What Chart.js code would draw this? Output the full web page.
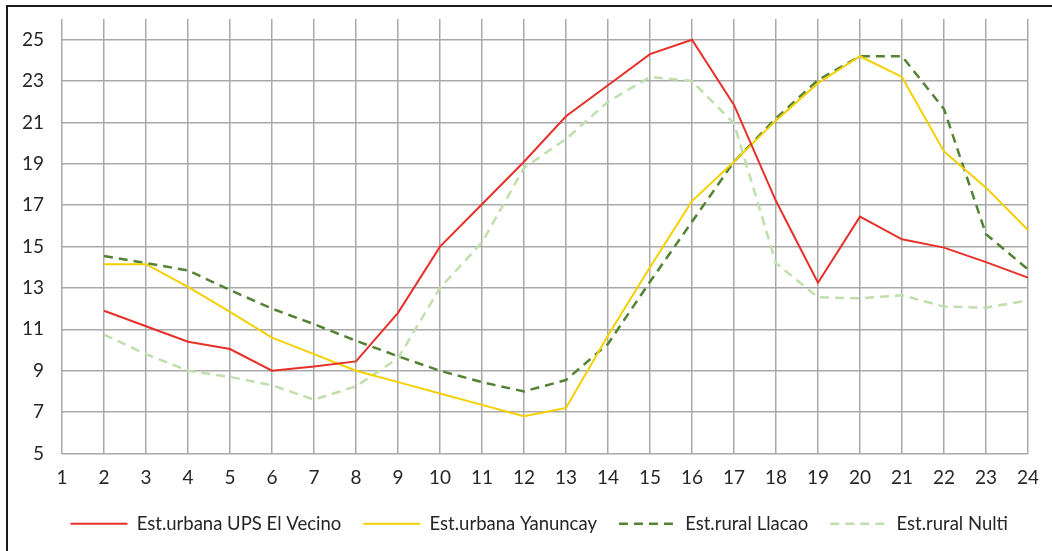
<!DOCTYPE html>
<html>
<head>
<meta charset="utf-8">
<script src="https://cdn.jsdelivr.net/npm/chart.js@4"></script>
<style>
  html, body { margin: 0; padding: 0; background: #fff; overflow: hidden; }
  #wrap { position: relative; width: 1052px; height: 551px; }
  #frame { position: absolute; left: 6px; top: 5px; width: 1200px; height: 700px;
           border-left: 2px solid #1a1a1a; border-top: 2px solid #1a1a1a; pointer-events: none; }
  canvas { position: absolute; left: 0; top: 0; }
</style>
</head>
<body>
<div id="wrap">
  <canvas id="grafico" width="1052" height="551"></canvas>
  <div id="frame"></div>
</div>
<script>
const horas = ['1', '2', '3', '4', '5', '6', '7', '8', '9', '10', '11', '12',
  '13', '14', '15', '16', '17', '18', '19', '20', '21', '22', '23', '24'];
const yTicks = [5, 7, 9, 11, 13, 15, 17, 19, 21, 23, 25];

const elVecino = [null, 11.9, 11.15, 10.4, 10.05, 9.0, 9.2, 9.45, 11.8, 15.0, 17.05, 19.1,
  21.3, 22.8, 24.3, 25.0, 21.85, 17.2, 13.25, 16.45, 15.35, 14.95, 14.25, 13.5];
const yanuncay = [null, 14.15, 14.15, 13.05, 11.85, 10.6, 9.8, 9.0, 8.45, 7.9, 7.35, 6.8,
  7.2, 10.7, 14.0, 17.2, 19.1, 21.1, 22.9, 24.2, 23.2, 19.6, 17.85, 15.8];
const llacao = [null, 14.55, 14.2, 13.85, 12.9, 12.0, 11.25, 10.45, 9.7, 9.0, 8.45, 8.0,
  8.55, 10.3, 13.3, 16.2, 19.1, 21.2, 23.05, 24.2, 24.2, 21.65, 15.6, 13.9];
const nulti = [null, 10.75, 9.8, 9.0, 8.7, 8.3, 7.6, 8.25, 9.6, 13.0, 15.2, 18.8,
  20.2, 22.0, 23.2, 23.0, 20.95, 14.2, 12.55, 12.5, 12.65, 12.1, 12.05, 12.4];

const fuente = { family: "Lato, 'Open Sans', sans-serif", size: 19 };
const fuenteLeyenda = { family: "Lato, 'Open Sans', sans-serif", size: 18.5 };

const ctx = document.getElementById('grafico').getContext('2d');
new Chart(ctx, {
  type: 'line',
  data: {
    labels: horas,
    datasets: [
      {
        label: 'Est.urbana UPS El Vecino',
        data: elVecino,
        borderColor: '#e8302a',
        backgroundColor: '#e8302a',
        borderWidth: 2
      },
      {
        label: 'Est.urbana Yanuncay',
        data: yanuncay,
        borderColor: '#f5d000',
        backgroundColor: '#f5d000',
        borderWidth: 2
      },
      {
        label: 'Est.rural Llacao',
        data: llacao,
        borderColor: '#548235',
        backgroundColor: '#548235',
        borderDash: [9, 6],
        borderWidth: 2.5
      },
      {
        label: 'Est.rural Nulti',
        data: nulti,
        borderColor: '#c0dfac',
        backgroundColor: '#c0dfac',
        borderDash: [9, 6],
        borderWidth: 2.5
      }
    ]
  },
  options: {
    responsive: false,
    animation: false,
    devicePixelRatio: 1,
    elements: { point: { radius: 0 }, line: { tension: 0 } },
    layout: { padding: { top: 19, right: 22, bottom: 8, left: 0 } },
    scales: {
      x: {
        offset: false,
        grid: { color: '#a9a9a9', lineWidth: 1.5, drawTicks: false },
        border: { display: false },
        ticks: { color: '#262626', font: fuente, padding: 13, maxRotation: 0, autoSkip: false },
        afterFit: (scale) => { scale.height = 39; }
      },
      y: {
        min: 5,
        max: 26,
        grid: { color: '#a9a9a9', lineWidth: 1.5, drawTicks: false },
        border: { display: false },
        ticks: { color: '#262626', font: fuente, padding: 18 },
        afterBuildTicks: (scale) => { scale.ticks = yTicks.map(v => ({ value: v })); },
        afterFit: (scale) => {
          scale.width = 62;
          scale.paddingTop = 0;
          scale.paddingBottom = 0;
        }
      }
    },
    plugins: {
      legend: {
        position: 'bottom',
        align: 'end',
        labels: {
          color: '#262626',
          font: fuenteLeyenda,
          boxWidth: 57,
          boxHeight: 0,
          padding: 22
        }
      },
      tooltip: { enabled: false }
    }
  }
});
</script>
</body>
</html>
